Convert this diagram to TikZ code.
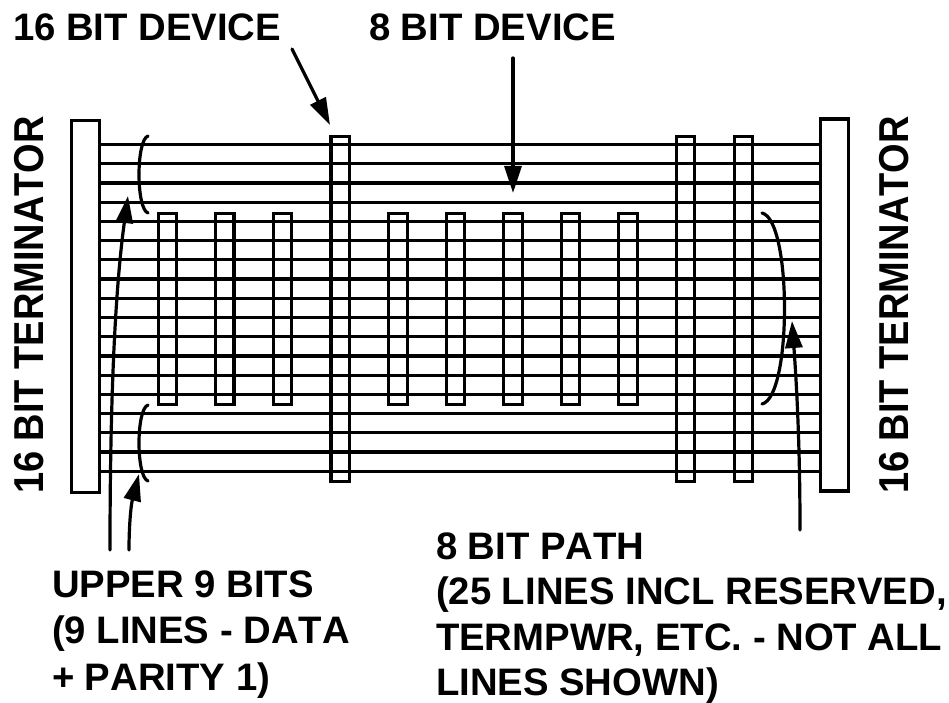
\documentclass[tikz,border=0pt]{standalone}
\usepackage{fontspec}
\usepackage{graphicx}
\setmainfont[Kerning=Off]{Liberation Sans}
\usetikzlibrary{arrows.meta,calc}
\tikzset{
  every node/.style={inner sep=0pt,outer sep=0pt},
  lbl/.style={font=\fontsize{38.3}{46.5}\selectfont\bfseries,align=left,anchor=west},
  lblb/.style={font=\fontsize{38.3}{45.5}\selectfont\bfseries,align=left,anchor=west},
  vlbl/.style={font=\fontsize{38}{42}\selectfont\bfseries,rotate=90},
  term/.style={draw,line width=3.3pt,minimum width=27.5pt,minimum height=372pt},
  tall/.style={draw,line width=3.2pt,minimum width=18.3pt,minimum height=345pt},
  short/.style={draw,line width=3.2pt,minimum width=18.3pt,minimum height=191pt},
  bus/.style={line width=3.2pt},
  brace/.style={line width=3.2pt,line cap=round},
  arr/.style={line width=3.2pt,line cap=round,-{Triangle[length=27pt,width=17pt]}}
}
\begin{document}
\begin{tikzpicture}[x=1pt,y=-1pt]
\useasboundingbox (0,0) rectangle (949,703);
\node[term] (tl) at (85.5,306.5) {};
\node[term] (tr) at (834.5,305) {};
\foreach \i in {0,...,17}{
  \coordinate (a\i) at (100,144.5+19.22*\i);
  \draw[bus] (tl.east |- a\i) -- (tr.west |- a\i);
}
\foreach \n/\x in {t1/340.2,t2/685.7,t3/743.5}{
  \node[tall] (\n) at (\x,308.7) {};
}
\foreach \n/\x in {s1/167.5,s2/224.8,s3/282.5,s4/398,s5/455.5,s6/513,s7/570.5,s8/628}{
  \node[short] (\n) at (\x,309) {};
}
\node[lbl] (l16) at (13,27) {16 BIT DEVICE};
\node[lbl] (l8) at (369,27) {8 BIT DEVICE};
\node[vlbl] (vl) at (29,305) {\scalebox{1}[1.1]{16 BIT TERMINATOR}};
\node[vlbl] (vr) at (894,305) {\scalebox{1}[1.1]{16 BIT TERMINATOR}};
\node[lbl] (up) at (52,634.3) {UPPER 9 BITS\\(9 LINES - DATA\\+ PARITY 1)};
\node[lblb] (pa) at (436,618) {8 BIT PATH\\(25 LINES INCL RESERVED,\\TERMPWR, ETC. - NOT ALL\\LINES SHOWN)};
\coordinate (b1a) at (148,136); \coordinate (b1b) at (148,213);
\coordinate (b2a) at (148,405); \coordinate (b2b) at (148,481);
\coordinate (b3a) at (762,213); \coordinate (b3b) at (762,404);
\draw[brace] (b1a) .. controls (136,140) and (136,209) .. (b1b);
\draw[brace] (b2a) .. controls (136,409) and (136,477) .. (b2b);
\draw[brace] (b3a) .. controls (792,220) and (792,397) .. (b3b);
\coordinate (a1s) at (110,550); \coordinate (a1e) at (128,196);
\coordinate (a2s) at (129,550); \coordinate (a2e) at (139,474);
\coordinate (a3s) at (292,49); \coordinate (a3e) at (330,125);
\coordinate (a4s) at (513,58); \coordinate (a4e) at (513,193);
\coordinate (a5s) at (800,530); \coordinate (a5e) at (792,321);
\draw[arr] (a1s) .. controls (110,400) and (115,290) .. (a1e);
\draw[arr] (a2s) .. controls (129,525) and (131,505) .. (a2e);
\draw[arr] (a3s) -- (a3e);
\draw[arr] (a4s) -- (a4e);
\draw[arr] (a5s) .. controls (800,450) and (797,390) .. (a5e);
\end{tikzpicture}
\end{document}
